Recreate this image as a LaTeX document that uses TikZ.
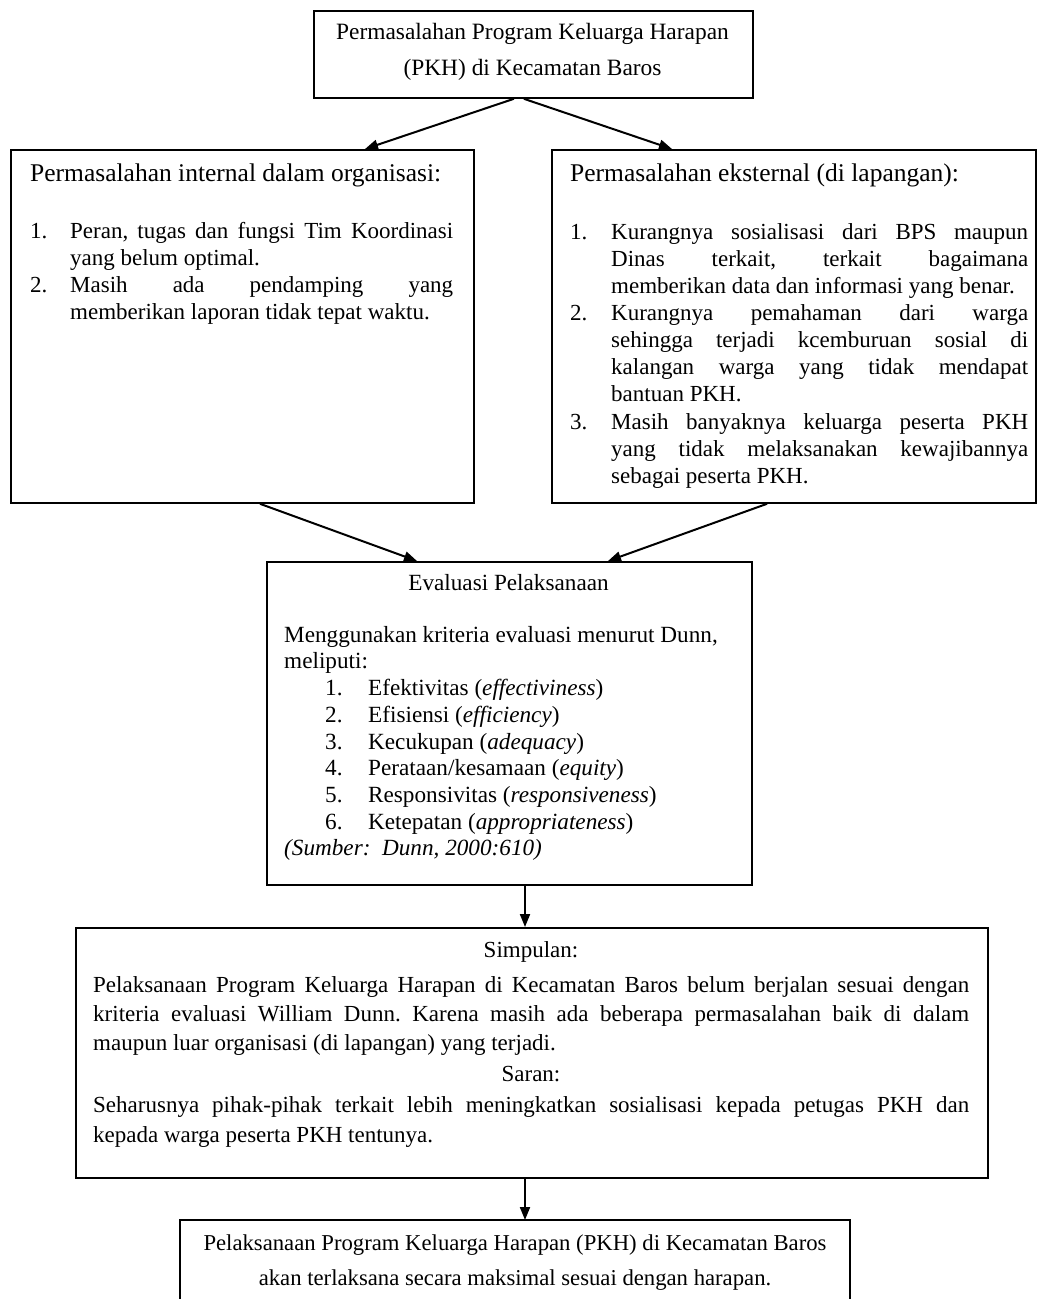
\documentclass[tikz,border=0pt]{standalone}
\usepackage{fontspec}
\setmainfont{Liberation Serif}
\usetikzlibrary{arrows.meta,calc}
\frenchspacing
\newcommand{\pkhitem}[2]{\par\noindent\hangindent=#1\relax\hangafter=1\relax\makebox[#1][l]{#2}\ignorespaces}
\begin{document}
\begin{tikzpicture}[x=1pt,y=-1pt,
  box/.style={draw, line width=1.8pt, inner sep=0pt, anchor=north west},
  conn/.style={line width=2pt, -{Triangle[length=13pt,width=10pt]}},
  body/.style={font=\fontsize{23}{27.1}\selectfont, inner sep=0pt},
  head/.style={font=\fontsize{25.5}{28}\selectfont, inner sep=0pt, anchor=base west},
  para/.style={body, anchor=north west, align=justify},
]
\useasboundingbox (0,0) rectangle (1037,1299);
\fill[white] (0,0) rectangle (1037,1299);

% top box
\node[box, minimum width=439pt, minimum height=87pt] (top) at (313,10) {};
\node[body, anchor=north, align=center, font=\fontsize{23.4}{36}\selectfont] (toptext) at (532.5,19)
  {\rule{0pt}{20pt}Permasalahan Program Keluarga Harapan\\(PKH) di Kecamatan Baros};

% left box
\node[box, minimum width=463pt, minimum height=353pt] (left) at (10,149) {};
\node[head] (lefthead) at (30,181) {Permasalahan internal dalam organisasi:};
\node[para, text width=423pt] (leftlist) at (30,211)
  {\hyphenpenalty=10000\relax
   \pkhitem{40pt}{\rule{0pt}{20pt}1.}Peran, tugas dan fungsi Tim Koordinasi\linebreak yang belum optimal.%
   \pkhitem{40pt}{2.}Masih ada pendamping yang\linebreak memberikan laporan tidak tepat waktu.\par};

% right box
\node[box, minimum width=484pt, minimum height=353pt] (right) at (551,149) {};
\node[head] (righthead) at (570,181) {Permasalahan eksternal (di lapangan):};
\node[para, text width=458pt] (rightlist) at (570,212)
  {\hyphenpenalty=10000\relax
   \pkhitem{41pt}{\rule{0pt}{20pt}1.}Kurangnya sosialisasi dari BPS maupun\linebreak Dinas terkait, terkait bagaimana\linebreak memberikan data dan informasi yang benar.%
   \pkhitem{41pt}{2.}Kurangnya pemahaman dari warga\linebreak sehingga terjadi kcemburuan sosial di\linebreak kalangan warga yang tidak mendapat\linebreak bantuan PKH.%
   \pkhitem{41pt}{3.}Masih banyaknya keluarga peserta PKH\linebreak yang tidak melaksanakan kewajibannya\linebreak sebagai peserta PKH.\par};

% evaluation box
\node[box, minimum width=485pt, minimum height=323pt] (eval) at (266,561) {};
\node[body, anchor=base, font=\fontsize{23.2}{27}\selectfont] (evaltitle) at (508.5,590) {Evaluasi Pelaksanaan};
\node[body, anchor=north west, align=left, font=\fontsize{23.2}{26.7}\selectfont] (evaltext) at (284,622)
  {\rule{0pt}{20pt}Menggunakan kriteria evaluasi menurut Dunn,\\
   meliputi:\\
   \hspace*{41pt}\makebox[43pt][l]{1.}Efektivitas (\textit{effectiviness})\\
   \hspace*{41pt}\makebox[43pt][l]{2.}Efisiensi (\textit{efficiency})\\
   \hspace*{41pt}\makebox[43pt][l]{3.}Kecukupan (\textit{adequacy})\\
   \hspace*{41pt}\makebox[43pt][l]{4.}Perataan/kesamaan (\textit{equity})\\
   \hspace*{41pt}\makebox[43pt][l]{5.}Responsivitas (\textit{responsiveness})\\
   \hspace*{41pt}\makebox[43pt][l]{6.}Ketepatan (\textit{appropriateness})\\
   \textit{(Sumber:\ \ Dunn, 2000:610)}};

% conclusion box
\node[box, minimum width=912pt, minimum height=250pt] (simp) at (75,927) {};
\node[body, anchor=base] (simptitle) at (531,957) {Simpulan:};
\node[para, text width=876pt, font=\fontsize{23}{29}\selectfont] (simptext) at (93,972)
  {\hyphenpenalty=10000\relax\noindent\rule{0pt}{20pt}Pelaksanaan Program Keluarga Harapan di Kecamatan Baros belum berjalan sesuai dengan\linebreak
   kriteria evaluasi William Dunn. Karena masih ada beberapa permasalahan baik di dalam\linebreak
   maupun luar organisasi (di lapangan) yang terjadi.\par};
\node[body, anchor=base] (sarantitle) at (531,1081) {Saran:};
\node[para, text width=876pt, font=\fontsize{23}{30}\selectfont] (sarantext) at (93,1092)
  {\hyphenpenalty=10000\relax\noindent\rule{0pt}{20pt}Seharusnya pihak-pihak terkait lebih meningkatkan sosialisasi kepada petugas PKH dan\linebreak
   kepada warga peserta PKH tentunya.\par};

% final box (bottom edge cut by the page)
\node[inner sep=0pt, outer sep=0pt, anchor=north west, minimum width=670pt, minimum height=79pt] (final) at (180,1220) {};
\draw[line width=1.8pt] (final.south west) |- (final.north) -| (final.south east);
\node[body, anchor=north, align=center, font=\fontsize{22.7}{35}\selectfont] (finaltext) at (515,1230)
  {\rule{0pt}{20pt}Pelaksanaan Program Keluarga Harapan (PKH) di Kecamatan Baros\\
   akan terlaksana secara maksimal sesuai dengan harapan.};

% connectors
\draw[conn] ($(top.south)+(-19.5,0)$) -- ($(left.north west)+(355,0)$);
\draw[conn] ($(top.south)+(-9.5,0)$) -- ($(right.north west)+(121,0)$);
\draw[conn] ($(left.south west)+(250,0)$) -- ($(eval.north west)+(151,0)$);
\draw[conn] ($(right.south west)+(216,0)$) -- ($(eval.north west)+(342,0)$);
\coordinate (c1) at ($(eval.south west)+(259,0)$);
\draw[conn] (c1) -- (c1 |- simp.north);
\coordinate (c2) at ($(simp.south west)+(450,0)$);
\draw[conn] (c2) -- (c2 |- final.north);
\end{tikzpicture}
\end{document}
